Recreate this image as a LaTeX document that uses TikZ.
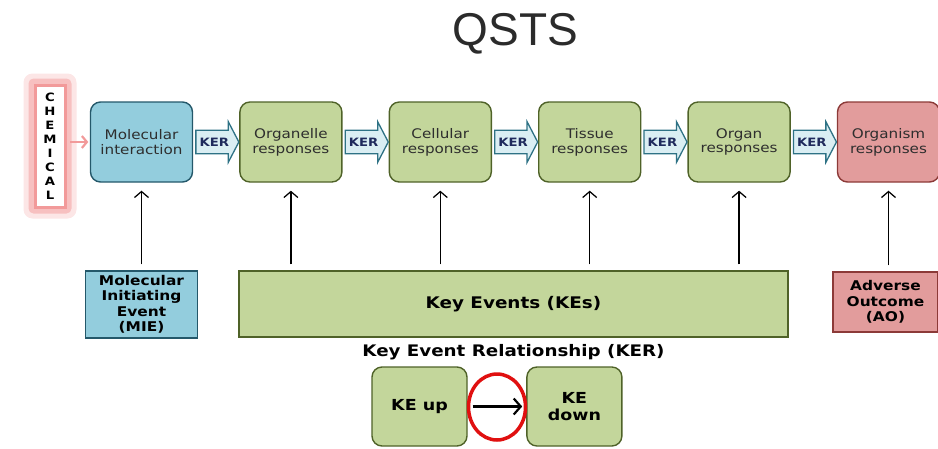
\documentclass[tikz,border=0pt]{standalone}
\usepackage{fontspec}
\setmainfont{DejaVu Sans}[FakeStretch=1.15]
\newfontfamily\titlefont{Liberation Sans}
\usepackage{xcolor}
\usepackage{tikz}
\usetikzlibrary{arrows.meta,positioning,fit,shapes.geometric,shapes.arrows,backgrounds}

\definecolor{bluefill}{HTML}{93CDDD}
\definecolor{blueline}{HTML}{24586A}
\definecolor{greenfill}{HTML}{C3D69B}
\definecolor{greenline}{HTML}{4F6228}
\definecolor{pinkfill}{HTML}{E29C9C}
\definecolor{pinkline}{HTML}{8C3A38}
\definecolor{kerfill}{HTML}{DAEEF3}
\definecolor{kerline}{HTML}{2E7285}
\definecolor{kertext}{HTML}{1F2A5C}
\definecolor{glowpink}{HTML}{F29A9A}
\definecolor{textgray}{HTML}{2E2E2E}
\definecolor{titlegray}{HTML}{2B2B2B}
\definecolor{ringred}{HTML}{E01010}

\begin{document}
\begin{tikzpicture}[x=1pt, y=-1pt,
        stage/.style={draw=greenline, fill=greenfill, rectangle, rounded corners=10pt, line width=1.4pt, align=center, minimum width=102pt, minimum height=80pt, inner sep=2pt, text=textgray, font=\fontsize{13.2}{14.8}\selectfont},
        ker/.style={single arrow, draw=kerline, fill=kerfill, line width=1.3pt, single arrow head extend=8.5pt, single arrow tip angle=125, minimum height=43pt, inner xsep=1pt, inner ysep=7pt, text=kertext, font=\bfseries\fontsize{11.5}{12}\selectfont},
        event/.style={draw, rectangle, line width=1.4pt, align=center, inner sep=2pt, font=\bfseries\fontsize{13.4}{15.5}\selectfont},
        kebox/.style={draw=greenline, fill=greenfill, rectangle, rounded corners=10pt, line width=1.4pt, align=center, minimum width=95pt, minimum height=79pt, inner sep=2pt, font=\bfseries\fontsize{15.2}{17}\selectfont},
        chem/.style={draw=glowpink, fill=white, rectangle, line width=3pt, align=center, minimum width=30pt, minimum height=122pt, inner sep=1pt, font=\bfseries\fontsize{11.5}{14}\selectfont},
        up/.style={->, line width=1.25pt, shorten <=6pt, shorten >=8pt},
        >={Straight Barb[length=6pt,width=14pt]}]

        \useasboundingbox (0,0) rectangle (938,448);

        % Title
        \node[font=\titlefont\fontsize{46}{50}\selectfont, text=titlegray] (title) at (515.5,34) {QSTS};

        % Chemical
        \node[chem] (chem) at (50,146) {C\\H\\E\\M\\I\\C\\A\\L};
        \begin{scope}[on background layer]
            \node[fit=(chem), inner sep=5pt, fill=glowpink, opacity=.5, rounded corners=5pt] (glowa) {};
            \node[fit=(chem), inner sep=10pt, fill=glowpink, opacity=.25, rounded corners=9pt] (glowb) {};
        \end{scope}

        % Levels of organisation
        \node[stage, fill=bluefill, draw=blueline] (mol) at (141.5,142) {Molecular\\interaction};
        \node[stage, right=46pt of mol] (orgl) {Organelle\\responses};
        \node[stage, right=46pt of orgl] (cell) {Cellular\\responses};
        \node[stage, right=46pt of cell] (tis) {Tissue\\responses};
        \node[stage, right=46pt of tis] (orgn) {Organ\\responses};
        \node[stage, fill=pinkfill, draw=pinkline, right=46pt of orgn] (orgm) {Organism\\responses};

        % KER arrows
        \node[ker, right=2pt of mol] (k1) {KER};
        \node[ker, right=2pt of orgl] (k2) {KER};
        \node[ker, right=2pt of cell] (k3) {KER};
        \node[ker, right=2pt of tis] (k4) {KER};
        \node[ker, right=2pt of orgn] (k5) {KER};

        % Events
        \node[event, fill=bluefill, draw=blueline, minimum width=112pt, minimum height=67pt] (mie) at (141.5,304.5) {Molecular\\Initiating\\Event\\(MIE)};
        \node[event, fill=greenfill, draw=greenline, minimum width=549pt, minimum height=66pt, font=\bfseries\fontsize{16}{18}\selectfont] (kes) at (513.5,304) {Key Events (KEs)};
        \node[event, fill=pinkfill, draw=pinkline, minimum width=105pt, minimum height=60pt] (ao) at (885.5,302) {Adverse\\Outcome\\(AO)};

        % Relationship
        \node[font=\bfseries\fontsize{15.9}{18}\selectfont] (kerlbl) at (513.5,352) {Key Event Relationship (KER)};
        \node[kebox] (keup) at (419.5,406.5) {KE up};
        \node[kebox, right=58.5pt of keup] (kedown) {KE\\down};

        % Connections
        \draw[-{Straight Barb[length=5pt,width=12pt]}, draw=glowpink, line width=2.2pt, shorten <=3.5pt, shorten >=1.5pt] (chem.east |- mol.west) -- (mol.west);

        \draw[up] (mie) -- (mol);
        \draw[up] (kes.north -| orgl) -- (orgl.south);
        \draw[up] (kes.north -| cell) -- (cell.south);
        \draw[up] (kes.north -| tis) -- (tis.south);
        \draw[up] (kes.north -| orgn) -- (orgn.south);
        \draw[up] (ao.north -| orgm) -- (orgm.south);

        \draw[-{Straight Barb[length=7pt,width=16pt]}, line width=2.2pt, shorten <=5pt, shorten >=4pt] (keup) -- (kedown);
        \node[ellipse, draw=ringred, line width=3.5pt, minimum width=57pt, minimum height=66pt, inner sep=0pt] (ring) at (497,407) {};

    \end{tikzpicture}
\end{document}
